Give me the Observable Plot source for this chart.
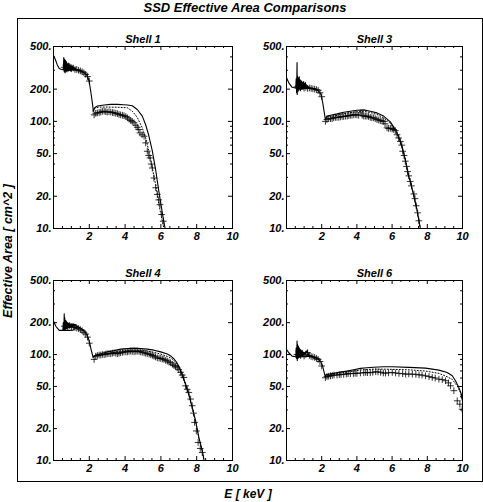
<!DOCTYPE html>
<html><head><meta charset="utf-8">
<script src="https://cdn.jsdelivr.net/npm/d3@7"></script>
<script src="https://cdn.jsdelivr.net/npm/@observablehq/plot@0.6"></script>
<style>
body{margin:0;background:#fff;}
#wrap{position:relative;width:483px;height:502px;background:#fff;overflow:hidden;font-family:"Liberation Sans",Arial,sans-serif;font-weight:bold;font-style:italic;color:#000;}
.abs{position:absolute;white-space:nowrap;}
</style></head><body><div id="wrap"></div>
<script>
// ---------- axis ticks ----------
const yMajor = [10, 20, 50, 100, 200, 500];
const yMinor = [30, 40, 60, 70, 80, 90, 300, 400];
const xMajor = [0, 2, 4, 6, 8, 10];
const xMinor = [0.5, 1, 1.5, 2.5, 3, 3.5, 4.5, 5, 5.5, 6.5, 7, 7.5, 8.5, 9, 9.5];
const xLabels = [2, 4, 6, 8, 10];
const panelTitles = ["Shell 1", "Shell 3", "Shell 4", "Shell 6"];

// shared energy grid of the noisy low-energy section
const noiseE = [0.525,0.55,0.575,0.6,0.61,0.625,0.65,0.675,0.7,0.725,0.75,0.775,0.8,0.825,0.85,0.875,0.9,0.925,0.95,0.975,1.0,1.025,1.05,1.075,1.1,1.125,1.15,1.175,1.2,1.225,1.25,1.275];
const lowPlusE = [0.6,0.7,0.8,0.9,1.0,1.1,1.2,1.3,1.4,1.5,1.6,1.7,1.8,1.9,2.0];

// ---------- Shell 1 ----------
const s1SolidE = [0,0.1,0.2,0.32,0.45,0.6,0.9,1.2,1.3,1.45,1.6,1.72,1.82,1.9,1.99,2.08,2.17,2.23,2.3,2.45,2.83,3.2,3.57,3.9,4.13,4.4,4.68,4.96,5.15,5.33,5.52,5.71,5.89,6.08,6.21,6.3];
const s1SolidA = [410,380,340,312,305,303,302,301,300,297,292,284,275,264,237,191,149,124,134,139,142,144,144,143,142,140,129,112,93,73,53,35,22,14,10.5,9];
const s1NoiseA = [303,310,395,290,300,380,285,370,295,360,290,345,300,350,295,335,300,330,295,340,300,325,305,330,305,320,305,315,305,312,302,301];
const s1DotE = [2.2,2.3,2.55,3.0,3.57,4.13,4.4,4.68,4.96,5.15,5.33,5.52,5.71,5.89,6.08,6.2];
const s1DotA = [125,133,136,136,135.5,134,124.5,109,87,70,52.6,36.7,25.6,16.7,11.7,9.5];
const s1PlusE = [...lowPlusE,2.27,2.36,2.45,2.55,2.64,2.73,2.83,2.92,3.0,3.1,3.2,3.3,3.38,3.48,3.57,3.66,3.75,3.85,3.94,4.04,4.13,4.22,4.31,4.4,4.5,4.6,4.68,4.76,4.83,4.95,5.06,5.15,5.24,5.32,5.39,5.46,5.52,5.61,5.71,5.8,5.88,5.95,6.04,6.13];
const s1PlusA = [320,335,315,325,310,315,305,305,300,296,290,284,275,262,238,115,119,120,121,122,124,124.5,123,122,123,122,121,120,119,118,116,115,114,113,111,108,105,102,100,97,92,88,84,78,75,72.6,63,52.6,48,45.6,40,36.7,29.6,24,20.8,18.5,16.7,13.5,11.7];

// ---------- Shell 3 ----------
const s3SolidE = [0,0.13,0.32,0.5,0.9,1.27,1.36,1.5,1.64,1.83,1.97,2.06,2.15,2.21,2.3,2.5,2.87,3.25,3.63,4.0,4.39,4.76,5.14,5.52,5.9,6.18,6.37,6.56,6.75,6.94,7.05,7.24,7.43,7.56,7.65];
const s3SolidA = [255,229,208,205,205,206,205,203,201,191,178,149,120,104,112,114,117.5,121.7,124.5,127,128,124.5,120,112,99,84,72.6,58.6,44,31,27,20,14.5,11,9];
const s3NoiseA = [205,250,185,355,178,265,190,255,195,260,200,245,195,240,200,235,205,230,200,235,205,225,205,230,205,220,205,215,205,212,206,208];
const s3DotE = [2.21,2.3,2.5,2.87,3.25,3.63,4.0,4.39,4.76,5.14,5.52,5.9,6.18,6.37,6.56,6.75,6.94,7.05,7.24,7.43,7.56,7.65];
const s3DotA = [104,110,111,114,118,121,123,124,121,116,108,96,82,71,57.5,43.5,30.5,26.8,20,14.5,11,9];
const s3PlusE = [...lowPlusE,2.21,2.3,2.4,2.5,2.59,2.68,2.78,2.87,2.97,3.06,3.16,3.25,3.35,3.45,3.54,3.63,3.72,3.82,3.91,4.0,4.1,4.23,4.3,4.39,4.48,4.57,4.66,4.76,4.85,4.95,5.04,5.14,5.24,5.33,5.43,5.52,5.6,5.71,5.8,5.9,6.0,6.09,6.18,6.28,6.37,6.47,6.55,6.6,6.68,6.75,6.82,6.88,6.95,7.03,7.1,7.24,7.3,7.37,7.45,7.52];
const s3PlusA = [210,215,205,212,204,208,203,205,203,201,200,198,195,185,170,100,104,106,106,106,108,109,109,109,110,111,111,112,112,113.5,114,114,115,116,115,114,120,114,112,112,112,111,109,108,108,106,104,103,101.5,101,100,95,87,86,86,85,84,82,75,70,65,60,52.6,48,42.5,38,34,31,27.5,25,21,19,16.3,14,11.8];

// ---------- Shell 4 ----------
const s4SolidE = [0,0.13,0.32,0.5,0.8,1.1,1.2,1.3,1.43,1.62,1.8,1.93,2.04,2.12,2.21,2.36,2.64,3.01,3.38,3.75,4.13,4.5,4.87,5.24,5.61,5.99,6.36,6.55,6.7,6.85,7.0,7.19,7.38,7.56,7.75,7.94,8.12,8.31,8.4,8.5];
const s4SolidA = [207,185,169,169,169,170,176,186,181,172,160,146,124.5,108,94.6,99,101.7,106,109,112.5,114,115,114,112.5,110,106,101,97,92,86,78,65.3,52.6,42.4,31.7,23.7,16.5,12.4,10.3,9];
const s4NoiseA = [169,200,169,243,172,225,172,210,175,205,175,200,178,198,180,195,180,192,182,196,183,192,184,194,185,192,186,193,188,192,189,190];
const s4DotE = [2.21,2.36,2.64,3.01,3.38,3.75,4.13,4.5,4.87,5.24,5.61,5.99,6.36,6.55,6.7,6.85,7.0,7.19,7.38,7.56,7.75,7.94,8.12,8.31,8.4];
const s4DotA = [94,97,99,102,105,108,109.5,110,109.5,108,105,101,96,93,89,83,76,63.5,51,41.5,31,23.2,16.2,12.2,10.1];
const s4PlusE = [...lowPlusE,2.27,2.36,2.45,2.55,2.64,2.73,2.83,2.92,3.0,3.1,3.2,3.29,3.38,3.48,3.57,3.66,3.75,3.85,3.94,4.04,4.13,4.22,4.31,4.4,4.5,4.6,4.68,4.78,4.87,4.96,5.06,5.15,5.24,5.34,5.43,5.52,5.61,5.7,5.8,5.9,5.99,6.08,6.17,6.27,6.36,6.45,6.54,6.64,6.73,6.82,6.91,7.0,7.1,7.19,7.28,7.38,7.47,7.56,7.66,7.75,7.82,7.88,7.98,8.08,8.2,8.31];
const s4PlusA = [185,195,180,188,182,185,180,178,176,172,168,162,156,146,128,90,96.6,98,99,99,100,100,101,101.7,102,101.7,103,104,103,101.7,103,104,105,106,106,106,107,108,107,106,107,108,107,106,105,104,103,101.7,101,100,98,96.6,95,93,92.5,92,91,90,88,86.7,85,83.6,81,79,77,75,72,68,64,60.8,50.7,47,43.9,38,32.9,28,22.9,19,14.8,13,11.9];

// ---------- Shell 6 ----------
const s6SolidE = [0,0.13,0.32,0.51,0.8,1.1,1.36,1.55,1.74,1.93,2.04,2.12,2.19,2.3,2.68,3.06,3.44,3.82,4.2,4.57,4.95,5.52,6.01,6.96,7.9,8.66,9.13,9.42,9.6,9.79,9.93,10.0];
const s6SolidA = [112,104,96.6,95.3,95,96,96.6,94.6,92,86.7,79,69.8,63,64.9,66.4,68.3,69.8,71.8,74,75,76,76.7,76.6,75.6,74.5,71.3,67.8,63,56.6,49,42.4,36.6];
const s6NoiseA = [95,115,92,134,88,125,92,120,94,115,95,112,96,110,97,108,98,106,99,105,100,104,101,106,103,108,106,109,105,103,101,98];
const s6DotE = [2.19,2.3,2.68,3.06,3.44,3.82,4.2,4.57,4.95,5.52,6.01,6.96,7.9,8.66,9.13,9.42,9.7,9.89,10.0];
const s6DotA = [62,63.5,65,66.8,68.3,70,71.5,72.3,72.8,72.8,72.5,71.8,69.8,66.4,61.7,58.2,50.5,43.6,36.6];
const s6PlusE = [...lowPlusE,2.21,2.3,2.4,2.5,2.6,2.7,2.87,3.0,3.1,3.25,3.4,3.5,3.63,3.8,3.9,4.0,4.2,4.39,4.5,4.6,4.76,4.9,5.07,5.2,5.35,5.5,5.63,5.8,6.01,6.2,6.39,6.6,6.77,6.95,7.15,7.35,7.53,7.7,7.9,8.1,8.28,8.45,8.66,8.85,9.04,9.2,9.32,9.51,9.7,9.85,9.98];
const s6PlusA = [100,108,98,103,97,100,104,98,96,95,94,92,90,86,78,60.4,62,62.5,63,63.5,64,64,64.5,64.8,65,65.5,66,66,66.3,66.5,66.4,67,67.3,67.8,67.5,67.3,68,68.8,68.5,68,67,66.8,67.2,67.8,67,66.4,66,65.3,65.5,65.3,65,64.3,64,63,62,60.8,60,58.6,58,56.6,54,50.7,45.6,36.6,34,30.5];

// ---------- layout ----------
const FONT = '"Liberation Sans", Arial, sans-serif';
const wrap = document.getElementById("wrap");
function addText(txt, css) {
  const d = document.createElement("div");
  d.className = "abs";
  d.textContent = txt;
  Object.assign(d.style, css);
  wrap.appendChild(d);
  return d;
}
// outer frame
const outer = document.createElement("div");
outer.className = "abs";
Object.assign(outer.style, {left: "17px", top: "18px", width: "464px", height: "462px", border: "1px solid #000"});
wrap.appendChild(outer);

addText("SSD Effective Area Comparisons", {left: "0px", width: "490px", textAlign: "center", top: "0px", fontSize: "13px", lineHeight: "15px"});
addText("E [ keV ]", {left: "0px", width: "496px", textAlign: "center", top: "487px", fontSize: "12px", lineHeight: "14px"});
addText("Effective Area [ cm^2 ]", {left: "8px", top: "251px", fontSize: "12.5px", lineHeight: "13px", transform: "translate(-50%,-50%) rotate(-90deg)"});

const zip = (E, A) => E.map((e, i) => ({e, a: A[i]}));

const shells = [
  {title: panelTitles[0], solid: zip(s1SolidE, s1SolidA), noise: zip(noiseE, s1NoiseA), dot: zip(s1DotE, s1DotA), plus: zip(s1PlusE, s1PlusA), box: {x0: 53, x1: 232, y0: 46, y1: 228}},
  {title: panelTitles[1], solid: zip(s3SolidE, s3SolidA), noise: zip(noiseE, s3NoiseA), dot: zip(s3DotE, s3DotA), plus: zip(s3PlusE, s3PlusA), box: {x0: 286, x1: 462, y0: 46, y1: 228}},
  {title: panelTitles[2], solid: zip(s4SolidE, s4SolidA), noise: zip(noiseE, s4NoiseA), dot: zip(s4DotE, s4DotA), plus: zip(s4PlusE, s4PlusA), box: {x0: 53, x1: 232, y0: 280, y1: 460}},
  {title: panelTitles[3], solid: zip(s6SolidE, s6SolidA), noise: zip(noiseE, s6NoiseA), dot: zip(s6DotE, s6DotA), plus: zip(s6PlusE, s6PlusA), box: {x0: 286, x1: 462, y0: 280, y1: 460}}
];

for (const s of shells) {
  const mL = 40, mT = 20, mR = 12, mB = 20;
  const fw = s.box.x1 - s.box.x0, fh = s.box.y1 - s.box.y0;
  const svg = Plot.plot({
    width: fw + mL + mR, height: fh + mT + mB,
    marginLeft: mL, marginTop: mT, marginRight: mR, marginBottom: mB,
    x: {domain: [0, 10], axis: null},
    y: {type: "log", domain: [10, 500], axis: null},
    style: {fontFamily: FONT, fontSize: "11px", fontWeight: "bold", fontStyle: "italic", background: "transparent", color: "#000", overflow: "visible"},
    marks: [
      Plot.line(s.solid, {x: "e", y: "a", stroke: "#000", strokeWidth: 1.1, clip: true}),
      Plot.line(s.noise, {x: "e", y: "a", stroke: "#000", strokeWidth: 1.1, clip: true}),
      Plot.line(s.dot, {x: "e", y: "a", stroke: "#000", strokeWidth: 1, strokeDasharray: "1 2", clip: true}),
      Plot.dot(s.plus, {x: "e", y: "a", symbol: "plus", r: 2.3, stroke: "#000", strokeWidth: 0.8, clip: true}),
      // inward ticks
      Plot.tickY(yMajor, {y: d => d, insetRight: fw - 4, stroke: "#000"}),
      Plot.tickY(yMajor, {y: d => d, insetLeft: fw - 4, stroke: "#000"}),
      Plot.tickY(yMinor, {y: d => d, insetRight: fw - 2, stroke: "#000"}),
      Plot.tickY(yMinor, {y: d => d, insetLeft: fw - 2, stroke: "#000"}),
      Plot.tickX(xMajor, {x: d => d, insetTop: fh - 4, stroke: "#000"}),
      Plot.tickX(xMajor, {x: d => d, insetBottom: fh - 4, stroke: "#000"}),
      Plot.tickX(xMinor, {x: d => d, insetTop: fh - 2, stroke: "#000"}),
      Plot.tickX(xMinor, {x: d => d, insetBottom: fh - 2, stroke: "#000"}),
      Plot.frame({stroke: "#000", strokeWidth: 1}),
      // tick labels
      Plot.text(yMajor, {y: d => d, text: d => d + ".", frameAnchor: "left", textAnchor: "end", dx: -2, fill: "#000"}),
      Plot.text(xLabels, {x: d => d, text: d => String(d), frameAnchor: "bottom", lineAnchor: "top", dy: 4, fill: "#000"}),
      Plot.text([s.title], {text: d => d, frameAnchor: "top", lineAnchor: "bottom", dy: -4, fontSize: 11, fill: "#000"})
    ]
  });
  svg.style.position = "absolute";
  svg.style.left = (s.box.x0 - mL) + "px";
  svg.style.top = (s.box.y0 - mT) + "px";
  wrap.appendChild(svg);
}
</script>
</body></html>
